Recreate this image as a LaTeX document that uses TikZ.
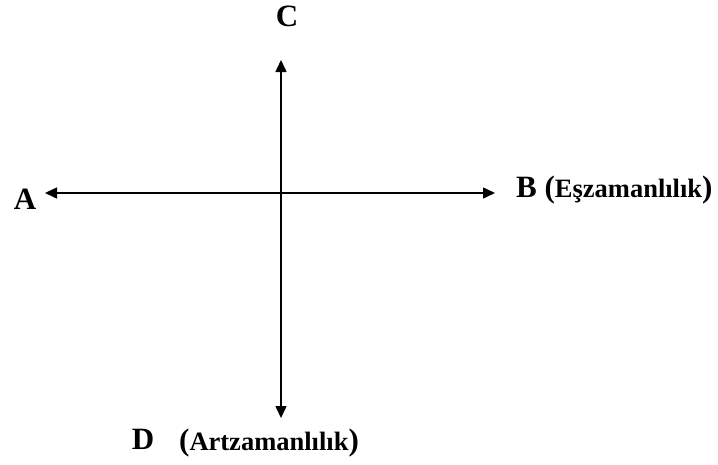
\documentclass[tikz,border=0pt]{standalone}
\usepackage{fontspec}
\setmainfont{Liberation Serif}
\usetikzlibrary{arrows.meta}
\tikzset{
  axis/.style={line width=1.5pt,-{Triangle[length=12pt,width=11pt]}},
  biglab/.style={inner sep=0pt,font=\fontsize{31}{34}\selectfont\bfseries},
}
\newcommand{\smallw}[1]{{\fontsize{26.5}{30}\selectfont #1}}
\begin{document}
\begin{tikzpicture}[x=1pt,y=-1pt]
\useasboundingbox (0,0) rectangle (718,464);
\coordinate (O) at (281,193);
\coordinate (top) at (281,60);
\coordinate (bot) at (281,418);
\coordinate (lft) at (45,193);
\coordinate (rgt) at (495,193);
\draw[axis] (O) -- (top);
\draw[axis] (O) -- (bot);
\draw[axis] (O) -- (lft);
\draw[axis] (O) -- (rgt);
\node[biglab,anchor=base] (C) at (287,26) {C};
\node[biglab,anchor=base] (A) at (25,209) {A};
\node[biglab,anchor=base west] (B) at (516,197) {B (\smallw{Eşzamanlılık})};
\node[biglab,anchor=base] (D) at (143,449) {D};
\node[biglab,anchor=base west] (Dw) at (179,450) {(\smallw{Artzamanlılık})};
\end{tikzpicture}
\end{document}
